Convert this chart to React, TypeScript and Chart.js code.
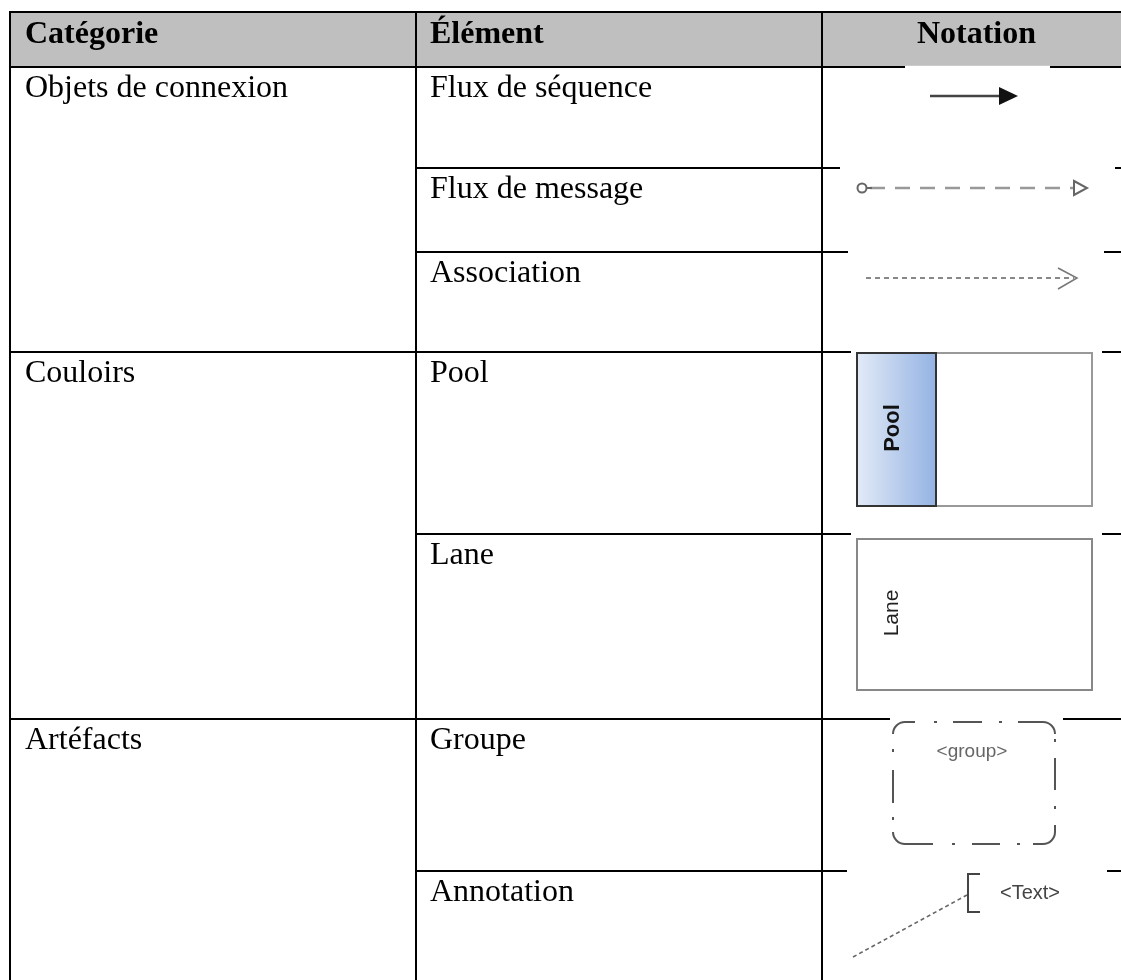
import { useEffect, useRef } from "react";
import { Chart, registerables } from "chart.js";

Chart.register(...registerables);

const W = 1121;
const H = 980;

// ---- table content ----
const headers = ["Catégorie", "Élément", "Notation"];
const categories = ["Objets de connexion", "Couloirs", "Artéfacts"];
const categoryRowSpans = [3, 2, 2];
const elements = [
  "Flux de séquence",
  "Flux de message",
  "Association",
  "Pool",
  "Lane",
  "Groupe",
  "Annotation",
];
const notations = ["sequence", "message", "association", "pool", "lane", "group", "annotation"];

// table grid, in scale units (x: column edges, y: row edges)
const columnEdges = [10, 416, 822, 1131];
const rowEdges = [12, 67, 168, 252, 352, 534, 719, 871, 1000];

type Px = (v: number) => number;

function seg(ctx: CanvasRenderingContext2D, x0: number, y0: number, x1: number, y1: number) {
  ctx.beginPath();
  ctx.moveTo(x0, y0);
  ctx.lineTo(x1, y1);
  ctx.stroke();
}

function drawIcon(ctx: CanvasRenderingContext2D, kind: string, L: number, T: number) {
  ctx.save();
  // white "image" background covering grid lines
  const boxes: Record<string, [number, number, number, number]> = {
    sequence: [83, 228, -1.2, 93],
    message: [18, 293, -1.2, 72],
    association: [26, 282, -1.2, 88],
    pool: [29, 280, -1.2, 160],
    lane: [29, 280, -1.2, 160],
    group: [68, 241, -1.2, 131],
    annotation: [25, 285, -1.2, 100],
  };
  const b = boxes[kind];
  ctx.fillStyle = "#ffffff";
  ctx.fillRect(L + b[0], T + b[2], b[1] - b[0], b[3] - b[2]);
  ctx.filter = "blur(0.5px)";
  ctx.lineCap = "butt";
  if (kind === "sequence") {
    ctx.strokeStyle = "#444";
    ctx.lineWidth = 2.5;
    seg(ctx, L + 108, T + 29, L + 180, T + 29);
    ctx.fillStyle = "#111";
    ctx.beginPath();
    ctx.moveTo(L + 177, T + 20);
    ctx.lineTo(L + 196, T + 29);
    ctx.lineTo(L + 177, T + 38);
    ctx.closePath();
    ctx.fill();
  } else if (kind === "message") {
    ctx.strokeStyle = "#999";
    ctx.lineWidth = 2.5;
    ctx.setLineDash([15, 10]);
    seg(ctx, L + 48, T + 20, L + 252, T + 20);
    ctx.setLineDash([]);
    ctx.strokeStyle = "#666";
    ctx.lineWidth = 2;
    ctx.beginPath();
    ctx.arc(L + 40, T + 20, 4.5, 0, Math.PI * 2);
    ctx.stroke();
    seg(ctx, L + 44.5, T + 20, L + 50, T + 20);
    ctx.beginPath();
    ctx.moveTo(L + 252, T + 13);
    ctx.lineTo(L + 265, T + 20);
    ctx.lineTo(L + 252, T + 27);
    ctx.closePath();
    ctx.stroke();
  } else if (kind === "association") {
    ctx.strokeStyle = "#888";
    ctx.lineWidth = 2;
    ctx.setLineDash([5, 4]);
    seg(ctx, L + 44, T + 26, L + 252, T + 26);
    ctx.setLineDash([]);
    ctx.strokeStyle = "#777";
    ctx.lineWidth = 1.5;
    ctx.beginPath();
    ctx.moveTo(L + 236, T + 16);
    ctx.lineTo(L + 255, T + 26);
    ctx.lineTo(L + 236, T + 37);
    ctx.stroke();
  } else if (kind === "pool") {
    const x0 = L + 35, x1 = L + 270, y0 = T + 1, y1 = T + 154, xb = L + 114;
    ctx.strokeStyle = "#999";
    ctx.lineWidth = 2;
    ctx.strokeRect(x0, y0, x1 - x0, y1 - y0);
    const g = ctx.createLinearGradient(x0, 0, xb, 0);
    g.addColorStop(0, "#e2eaf7");
    g.addColorStop(1, "#94b3e3");
    ctx.fillStyle = g;
    ctx.fillRect(x0, y0, xb - x0, y1 - y0);
    ctx.strokeStyle = "#333";
    ctx.strokeRect(x0, y0, xb - x0, y1 - y0);
    ctx.translate(L + 71, T + 76);
    ctx.rotate(-Math.PI / 2);
    ctx.fillStyle = "#111";
    ctx.font = "bold 22px 'Liberation Sans', Arial, sans-serif";
    ctx.textAlign = "center";
    ctx.textBaseline = "middle";
    ctx.fillText("Pool", 0, 0);
  } else if (kind === "lane") {
    const x0 = L + 35, x1 = L + 270, y0 = T + 5, y1 = T + 156;
    ctx.strokeStyle = "#888";
    ctx.lineWidth = 2;
    ctx.strokeRect(x0, y0, x1 - x0, y1 - y0);
    ctx.translate(L + 70, T + 79);
    ctx.rotate(-Math.PI / 2);
    ctx.fillStyle = "#222";
    ctx.font = "21px 'Liberation Sans', Arial, sans-serif";
    ctx.textAlign = "center";
    ctx.textBaseline = "middle";
    ctx.fillText("Lane", 0, 0);
  } else if (kind === "group") {
    const x0 = L + 71, x1 = L + 233, y0 = T + 3, y1 = T + 125, rr = 12;
    ctx.strokeStyle = "#555";
    ctx.lineWidth = 2;
    // solid rounded corners
    const corner = (cx: number, cy: number, a0: number) => {
      ctx.beginPath();
      ctx.arc(cx, cy, rr, a0, a0 + Math.PI / 2);
      ctx.stroke();
    };
    corner(x0 + rr, y0 + rr, Math.PI);
    corner(x1 - rr, y0 + rr, -Math.PI / 2);
    corner(x1 - rr, y1 - rr, 0);
    corner(x0 + rr, y1 - rr, Math.PI / 2);
    // dash-dot straight edges (offsets along each edge)
    const topSegs = [[0, 10], [29, 32], [48, 77], [94, 97], [113, 138]];
    const botSegs = [[0, 28], [47, 50], [67, 95], [112, 115], [128, 138]];
    const leftSegs = [[15, 18], [36, 69], [83, 86]];
    const rightSegs = [[5, 8], [24, 56], [72, 75], [91, 98]];
    topSegs.forEach(([a, e]) => seg(ctx, x0 + rr + a, y0, x0 + rr + e, y0));
    botSegs.forEach(([a, e]) => seg(ctx, x0 + rr + a, y1, x0 + rr + e, y1));
    leftSegs.forEach(([a, e]) => seg(ctx, x0, y0 + rr + a, x0, y0 + rr + e));
    rightSegs.forEach(([a, e]) => seg(ctx, x1, y0 + rr + a, x1, y0 + rr + e));
    ctx.fillStyle = "#666";
    ctx.font = "19px 'Liberation Sans', Arial, sans-serif";
    ctx.textAlign = "center";
    ctx.textBaseline = "middle";
    ctx.fillText("<group>", L + 150, T + 33);
  } else if (kind === "annotation") {
    ctx.strokeStyle = "#666";
    ctx.lineWidth = 1.6;
    ctx.setLineDash([4, 3]);
    seg(ctx, L + 31, T + 86, L + 145, T + 24);
    ctx.setLineDash([]);
    ctx.strokeStyle = "#444";
    ctx.lineWidth = 2;
    ctx.beginPath();
    ctx.moveTo(L + 158, T + 3);
    ctx.lineTo(L + 146, T + 3);
    ctx.lineTo(L + 146, T + 41);
    ctx.lineTo(L + 158, T + 41);
    ctx.stroke();
    ctx.fillStyle = "#444";
    ctx.font = "20px 'Liberation Sans', Arial, sans-serif";
    ctx.textAlign = "left";
    ctx.textBaseline = "middle";
    ctx.fillText("<Text>", L + 178, T + 22);
  }
  ctx.restore();
}

const tablePlugin = {
  id: "tableDraw",
  afterDraw(chart: any) {
    const ctx: CanvasRenderingContext2D = chart.ctx;
    const xs = chart.scales.x;
    const ys = chart.scales.y;
    const px: Px = (v) => xs.getPixelForValue(v);
    const py: Px = (v) => ys.getPixelForValue(v);
    const c = columnEdges.map(px);
    const r = rowEdges.map(py);

    ctx.save();
    // header background
    ctx.fillStyle = "#bfbfbf";
    ctx.fillRect(c[0], r[0], c[3] - c[0], r[1] - r[0]);

    // grid lines
    ctx.strokeStyle = "#000";
    ctx.lineWidth = 2;
    seg(ctx, c[0] - 1, r[0], c[3], r[0]);
    seg(ctx, c[0] - 1, r[1], c[3], r[1]);
    // category boundaries
    const catStarts: number[] = [];
    let acc = 0;
    categoryRowSpans.forEach((s) => {
      catStarts.push(acc);
      acc += s;
    });
    for (let i = 1; i < elements.length; i++) {
      const isCat = catStarts.includes(i);
      seg(ctx, isCat ? c[0] - 1 : c[1] - 1, r[i + 1], c[3], r[i + 1]);
    }
    for (let k = 0; k < 3; k++) seg(ctx, c[k], r[0] - 1, c[k], r[r.length - 1]);

    // header text
    ctx.fillStyle = "#000";
    ctx.textBaseline = "alphabetic";
    ctx.font = "bold 32px 'Liberation Serif', 'Times New Roman', serif";
    ctx.textAlign = "left";
    ctx.fillText(headers[0], c[0] + 15, r[0] + 31);
    ctx.fillText(headers[1], c[1] + 14, r[0] + 31);
    ctx.textAlign = "center";
    ctx.fillText(headers[2], (c[2] + c[3]) / 2, r[0] + 31);

    // body text
    ctx.font = "32px 'Liberation Serif', 'Times New Roman', serif";
    ctx.textAlign = "left";
    categories.forEach((cat, i) => {
      const row = catStarts[i];
      ctx.fillText(cat, c[0] + 15, r[row + 1] + 29.5);
    });
    elements.forEach((el, i) => {
      ctx.fillText(el, c[1] + 14, r[i + 1] + 29.5);
    });
    ctx.restore();

    // notation icons
    notations.forEach((n, i) => drawIcon(ctx, n, c[2], r[i + 1]));
  },
};

export default function App() {
  const ref = useRef<HTMLCanvasElement | null>(null);
  useEffect(() => {
    if (!ref.current) return;
    const chart = new Chart(ref.current, {
      type: "scatter",
      data: { datasets: [{ data: [], pointRadius: 0 }] },
      options: {
        animation: false,
        responsive: false,
        devicePixelRatio: 1,
        layout: { padding: 0 },
        scales: {
          x: { type: "linear", min: 0, max: W, display: false },
          y: { type: "linear", min: 0, max: H, reverse: true, display: false },
        },
        plugins: { legend: { display: false }, tooltip: { enabled: false } },
      },
      plugins: [tablePlugin],
    });
    return () => chart.destroy();
  }, []);
  return (
    <div style={{ position: "absolute", left: 0, top: 0, width: W, height: H, background: "#fff" }}>
      <canvas ref={ref} width={W} height={H} style={{ display: "block" }} />
    </div>
  );
}
